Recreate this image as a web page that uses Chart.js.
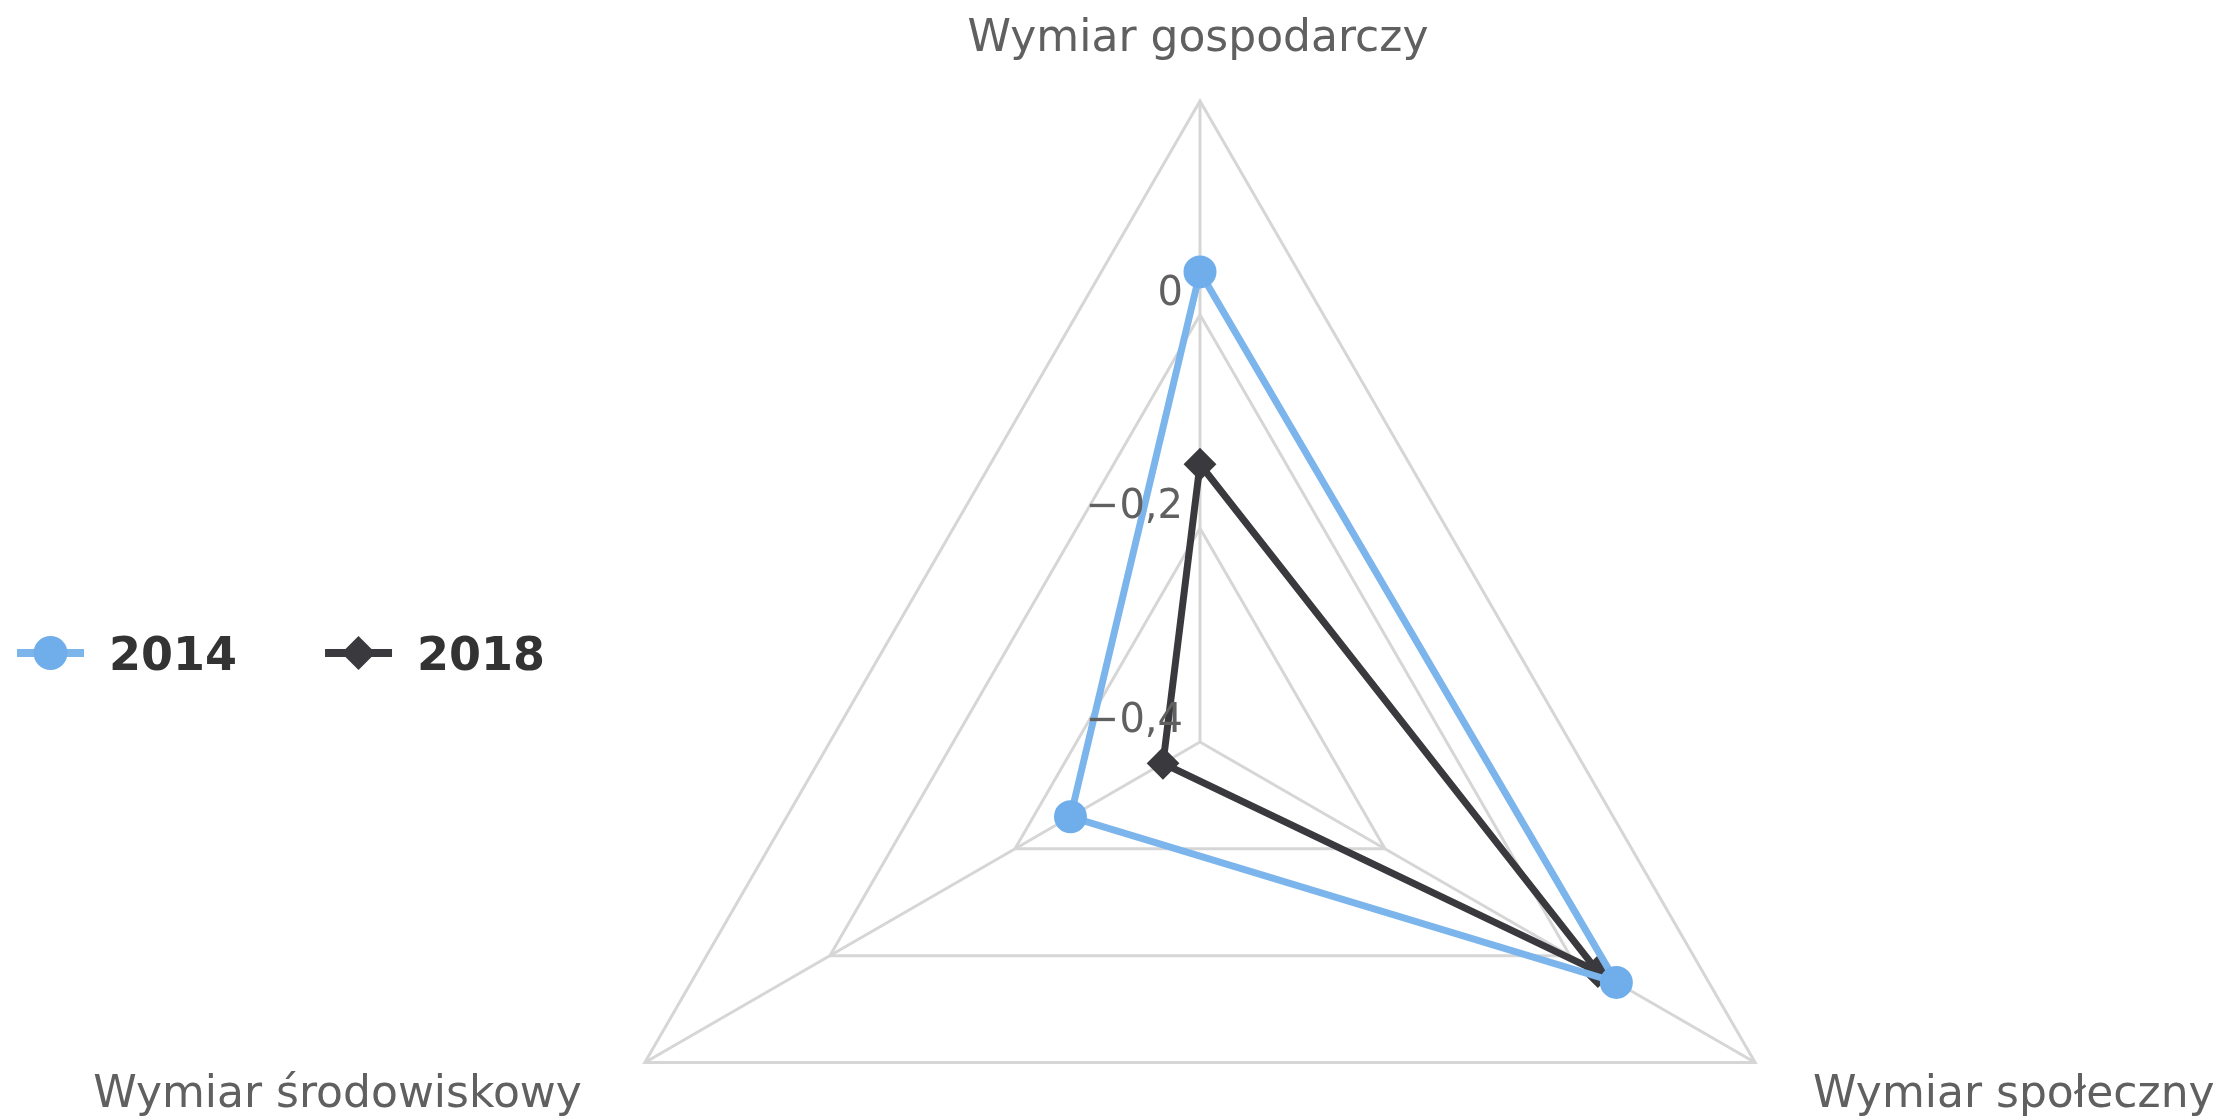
<!DOCTYPE html>
<html><head><meta charset="utf-8">
<script src="https://cdn.jsdelivr.net/npm/chart.js@4/dist/chart.umd.min.js"></script>
<style>html,body{margin:0;padding:0;background:#fff;overflow:hidden}#wrap{width:2217px;height:1117px}</style>
</head><body><div id="wrap"><canvas id="c" width="2217" height="1117"></canvas></div>
<script>
const categories = ['Wymiar gospodarczy', 'Wymiar społeczny', 'Wymiar środowiskowy'];
const seriesNames = ['2014', '2018'];
const values2014 = [0.04, 0.05, -0.26];
const values2018 = [-0.14, 0.03, -0.36];
const tickValues = [-0.4, -0.2, 0, 0.2];
const tickLabels = ['−0,4', '−0,2', '0', ''];

const FONT = '"DejaVu Sans", Verdana, sans-serif';
const GRID = '#d6d6d6';

const overlay = {
  id: 'overlay',
  afterDraw(chart) {
    const ctx = chart.ctx;
    const r = chart.scales.r;
    ctx.save();
    // tick labels
    ctx.font = '40px ' + FONT;
    ctx.fillStyle = '#606060';
    ctx.textAlign = 'right';
    ctx.textBaseline = 'alphabetic';
    tickValues.forEach((v, i) => {
      const t = tickLabels[i];
      if (!t) return;
      const d = r.getDistanceFromCenterForValue(v);
      ctx.fillText(t, r.xCenter - 17, r.yCenter - d - 10);
    });
    // category labels
    ctx.font = '44px ' + FONT;
    categories.forEach((c, i) => {
      const p = r.getPointPosition(i, r.drawingArea);
      if (i === 0) { ctx.textAlign = 'center'; ctx.fillText(c, p.x - 2, p.y - 50); }
      else if (i === 1) { ctx.textAlign = 'left'; ctx.fillText(c, p.x + 58, p.y + 44); }
      else { ctx.textAlign = 'right'; ctx.fillText(c, p.x - 63, p.y + 44); }
    });
    // legend
    ctx.font = 'bold 46px ' + FONT;
    ctx.textAlign = 'left';
    let x = 17;
    const y = 653;
    chart.data.datasets.forEach((ds, i) => {
      ctx.strokeStyle = ds.borderColor;
      ctx.lineWidth = 8;
      ctx.beginPath(); ctx.moveTo(x, y); ctx.lineTo(x + 67, y); ctx.stroke();
      ctx.fillStyle = ds.pointBackgroundColor;
      const cx = x + 33.5;
      ctx.beginPath();
      if (ds.pointStyle === 'circle') { ctx.arc(cx, y, 17, 0, Math.PI * 2); }
      else { ctx.moveTo(cx - 17, y); ctx.lineTo(cx, y - 17); ctx.lineTo(cx + 17, y); ctx.lineTo(cx, y + 17); ctx.closePath(); }
      ctx.fill();
      ctx.fillStyle = '#333333';
      ctx.fillText(ds.label, x + 92, y + 17);
      x += 92 + ctx.measureText(ds.label).width + 88;
    });
    ctx.restore();
  }
};

new Chart(document.getElementById('c'), {
  type: 'radar',
  data: {
    labels: categories,
    datasets: [
      {
        label: seriesNames[0], data: values2014,
        borderColor: '#7cb5ec', backgroundColor: 'rgba(0,0,0,0)', fill: false,
        borderWidth: 7, pointStyle: 'circle', pointRadius: 15, pointBorderWidth: 3,
        pointBackgroundColor: '#6fadeb', pointBorderColor: '#6fadeb', clip: false
      },
      {
        label: seriesNames[1], data: values2018,
        borderColor: '#3a3a3e', backgroundColor: 'rgba(0,0,0,0)', fill: false,
        borderWidth: 7, pointStyle: 'rectRot', pointRadius: 15, pointBorderWidth: 2,
        pointBackgroundColor: '#3a3a3e', pointBorderColor: '#3a3a3e', clip: false
      }
    ]
  },
  options: {
    responsive: false, animation: false, devicePixelRatio: 1,
    layout: { padding: 0 },
    plugins: { legend: { display: false }, tooltip: { enabled: false } },
    elements: { line: { tension: 0 } },
    scales: {
      r: {
        min: -0.4, max: 0.2, beginAtZero: false,
        ticks: { display: false, stepSize: 0.2 },
        grid: { color: GRID, lineWidth: 3 },
        angleLines: { color: GRID, lineWidth: 3 },
        pointLabels: { display: false },
        afterFit(scale) { scale.xCenter = 1200; scale.yCenter = 742; scale.drawingArea = 641; }
      }
    }
  },
  plugins: [overlay]
});
</script>
</body></html>
